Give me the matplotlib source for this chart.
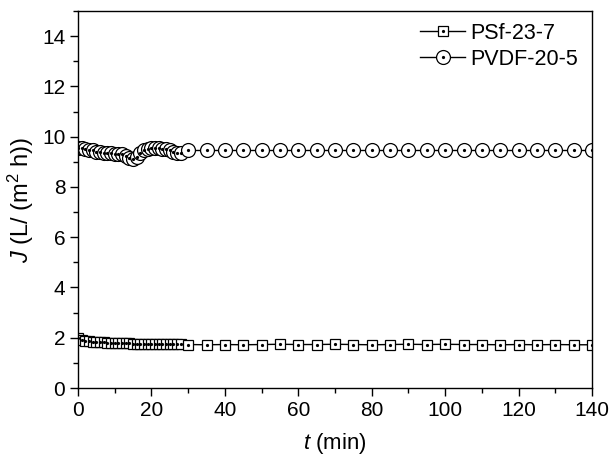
import matplotlib
matplotlib.use("Agg")
import matplotlib.pyplot as plt
from matplotlib.legend_handler import HandlerTuple
from matplotlib.ticker import MultipleLocator

plt.rcParams['font.family'] = ['Liberation Sans', 'DejaVu Sans']
plt.rcParams['mathtext.fontset'] = 'custom'
plt.rcParams['mathtext.rm'] = 'Liberation Sans'
plt.rcParams['mathtext.it'] = 'Liberation Sans:italic'

t_psf = list(range(0, 29)) + list(range(30, 141, 5))
j_psf = [2.0, 1.92, 1.88, 1.86, 1.85, 1.84, 1.83, 1.82, 1.81, 1.8,
         1.8, 1.79, 1.79, 1.78, 1.78, 1.77, 1.77, 1.77, 1.76, 1.76,
         1.76, 1.75, 1.75, 1.75, 1.75, 1.74, 1.74, 1.74, 1.74] + \
        [1.73, 1.72, 1.73, 1.72, 1.73, 1.74, 1.73, 1.73, 1.74, 1.73, 1.72, 1.73,
         1.74, 1.73, 1.74, 1.73, 1.73, 1.72, 1.73, 1.72, 1.73, 1.72, 1.72]

t_pvdf = list(range(0, 29)) + list(range(30, 141, 5))
j_pvdf = [9.55, 9.55, 9.5, 9.45, 9.45, 9.4, 9.4, 9.35, 9.35, 9.35,
          9.3, 9.3, 9.3, 9.25, 9.15, 9.1, 9.2, 9.35, 9.45, 9.5,
          9.55, 9.55, 9.55, 9.5, 9.5, 9.45, 9.4, 9.35, 9.35] + \
         [9.45] * 23

labels = ["PSf-23-7", "PVDF-20-5"]

W, H = 611, 457
fig = plt.figure(figsize=(W / 100, H / 100), dpi=100)
ax = fig.add_axes([78 / W, 1 - 388 / H, 514 / W, 377 / H])

col = 'black'
l1, = ax.plot(t_psf, j_psf, '-', color=col, lw=1.0, marker='s', ms=7.5,
              mfc='white', mec=col, mew=0.9)
d1, = ax.plot(t_psf, j_psf, ls='none', marker='o', ms=1.3, color=col)
l2, = ax.plot(t_pvdf, j_pvdf, '-', color=col, lw=1.0, marker='o', ms=10,
              mfc='white', mec=col, mew=0.9)
d2, = ax.plot(t_pvdf, j_pvdf, ls='none', marker='o', ms=1.3, color=col)

ax.set_xlim(0, 140)
ax.set_ylim(0, 15)
ax.xaxis.set_major_locator(MultipleLocator(20))
ax.xaxis.set_minor_locator(MultipleLocator(10))
ax.yaxis.set_major_locator(MultipleLocator(2))
ax.yaxis.set_minor_locator(MultipleLocator(1))
ax.tick_params(which='major', direction='out', length=5.5, width=1, pad=3.6,
               labelsize=15, colors='black')
ax.tick_params(which='minor', direction='out', length=3.5, width=1)
for s in ax.spines.values():
    s.set_linewidth(1.0)

ax.set_xlabel(r'$t$ (min)', fontsize=16, labelpad=8)
ax.set_ylabel(r'$J$ (L/ (m$^2$ h))', fontsize=17, labelpad=4)

leg = fig.legend([(l1, d1), (l2, d2)], labels,
                 handler_map={tuple: HandlerTuple(ndivide=1)},
                 loc='upper left', bbox_to_anchor=(420 / W, 1 - 23 / H),
                 bbox_transform=fig.transFigure,
                 frameon=False, fontsize=15.5, borderpad=0, borderaxespad=0,
                 handlelength=2.1, handletextpad=0.25, labelspacing=0.22)

fig.savefig('out.png', dpi=100)
